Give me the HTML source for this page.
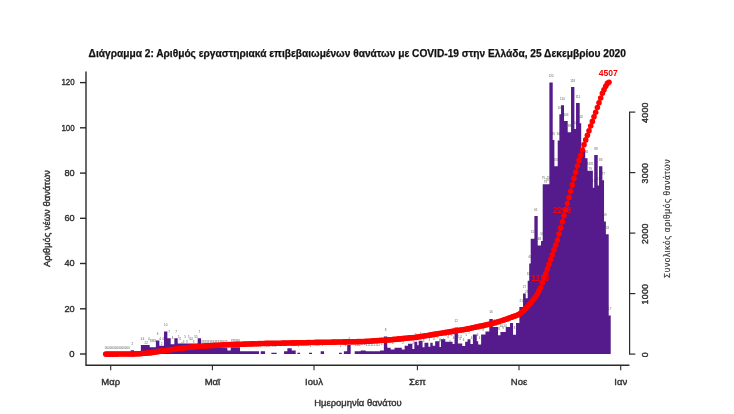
<!DOCTYPE html>
<html lang="el"><head><meta charset="utf-8"><title>Διάγραμμα 2</title>
<style>
html,body{margin:0;padding:0;background:#fff;}
body{width:734px;height:414px;overflow:hidden;}
svg{display:block;font-family:"Liberation Sans",sans-serif;}
</style></head><body>
<svg width="734" height="414" viewBox="0 0 734 414">
<rect width="734" height="414" fill="#fff"/>
<path fill="#551A8B" d="M130.70 354.00 V350.16 H134.03 V354.00 M140.87 354.00 V344.95 H149.70 V347.21 H155.87 V340.43 H159.37 V345.63 H164.03 V331.38 H167.37 V338.17 H170.70 V344.27 H174.37 V338.17 H177.70 V343.60 H197.70 V338.17 H201.04 V348.12 H227.37 V350.61 H230.70 V347.21 H240.04 V351.29 H259.04 V354.00 M260.70 354.00 V351.29 H265.04 V354.00 M271.37 354.00 V352.64 H276.70 V354.00 M284.04 354.00 V351.29 H287.37 V348.35 H291.70 V350.61 H295.70 V354.00 M297.37 354.00 V352.64 H300.04 V354.00 M309.04 354.00 V352.64 H312.04 V354.00 M320.70 354.00 V351.29 H324.04 V354.00 M339.04 354.00 V352.64 H341.87 V354.00 M343.87 354.00 V351.29 H347.20 V344.95 H350.70 V354.00 M354.70 354.00 V351.29 H360.71 V350.38 H365.71 V351.29 H380.00 V350.53 H383.87 V336.51 H387.25 V347.63 H390.64 V349.56 H394.51 V347.63 H401.76 V349.56 H404.66 V345.69 H408.05 V343.76 H412.40 V349.08 H414.33 V341.83 H417.23 V345.21 H418.68 V340.86 H422.55 V347.15 H424.49 V342.79 H428.36 V346.66 H430.29 V342.79 H432.71 V345.69 H435.13 V341.34 H439.48 V347.15 H439.52 V346.95 H440.97 V339.21 H445.32 V341.63 H452.57 V344.05 H454.51 V327.61 H457.89 V343.56 H462.24 V345.98 H465.15 V341.63 H467.56 V339.21 H470.46 V344.05 H472.88 V334.38 H476.75 V341.15 H478.20 V344.53 H481.10 V334.38 H485.45 V331.47 H489.32 V318.90 H492.71 V327.12 H498.03 V335.34 H500.44 V331.96 H505.76 V327.12 H510.02 V323.01 H513.04 V334.78 H516.04 V323.01 H519.37 V306.96 H523.04 V293.39 H525.71 V298.14 H527.71 V280.72 H529.21 V263.53 H530.71 V238.65 H534.38 V216.04 H537.71 V245.44 H541.04 V240.92 H542.71 V184.37 H549.38 V82.60 H552.71 V140.04 H554.38 V166.28 H557.71 V140.50 H559.38 V114.26 H561.04 V105.21 H564.04 V121.04 H567.71 V132.35 H571.04 V87.12 H574.38 V128.96 H576.04 V102.95 H579.71 V123.31 H581.21 V150.45 H585.21 V158.36 H587.54 V170.80 H592.88 V187.77 H594.21 V154.97 H597.71 V185.50 H599.04 V166.28 H602.38 V180.30 H604.04 V221.46 H605.88 V234.13 H608.71 V315.55 H610.71 V354.00"/>
<g font-size="3" fill="#333" opacity="0.8" text-anchor="middle">
<text x="105.7" y="348.5">0</text>
<text x="107.4" y="348.5">0</text>
<text x="109.0" y="348.5">0</text>
<text x="110.7" y="348.5">0</text>
<text x="112.4" y="348.5">0</text>
<text x="114.0" y="348.5">0</text>
<text x="115.7" y="348.5">0</text>
<text x="117.4" y="348.5">0</text>
<text x="119.0" y="348.5">0</text>
<text x="120.7" y="348.5">0</text>
<text x="122.4" y="348.5">0</text>
<text x="124.0" y="348.5">0</text>
<text x="125.7" y="348.5">0</text>
<text x="127.4" y="348.5">0</text>
<text x="129.0" y="348.5">0</text>
<text x="132.4" y="344.7">2</text>
<text x="141.7" y="339.5">4</text>
<text x="143.5" y="339.5">4</text>
<text x="145.3" y="344.0">2</text>
<text x="147.1" y="344.0">2</text>
<text x="148.9" y="339.5">4</text>
<text x="150.5" y="341.7">3</text>
<text x="152.0" y="341.7">3</text>
<text x="153.5" y="341.7">3</text>
<text x="155.0" y="341.7">3</text>
<text x="157.6" y="334.9">6</text>
<text x="160.2" y="340.1">4</text>
<text x="161.7" y="344.7">2</text>
<text x="163.2" y="340.1">4</text>
<text x="165.7" y="325.9">10</text>
<text x="169.0" y="332.7">7</text>
<text x="172.5" y="338.8">4</text>
<text x="176.0" y="332.7">7</text>
<text x="178.5" y="338.1">5</text>
<text x="180.2" y="340.4">4</text>
<text x="181.9" y="344.9">2</text>
<text x="183.5" y="342.6">3</text>
<text x="185.2" y="338.1">5</text>
<text x="186.9" y="342.6">3</text>
<text x="188.5" y="338.1">5</text>
<text x="190.2" y="340.4">4</text>
<text x="191.9" y="340.4">4</text>
<text x="193.5" y="342.6">3</text>
<text x="195.2" y="338.1">5</text>
<text x="196.9" y="338.1">5</text>
<text x="199.4" y="332.7">7</text>
<text x="201.9" y="342.6">3</text>
<text x="203.5" y="342.6">3</text>
<text x="205.2" y="342.6">3</text>
<text x="206.8" y="342.6">3</text>
<text x="208.4" y="342.6">3</text>
<text x="210.1" y="342.6">3</text>
<text x="211.7" y="342.6">3</text>
<text x="213.4" y="342.6">3</text>
<text x="215.0" y="342.6">3</text>
<text x="216.7" y="342.6">3</text>
<text x="218.3" y="342.6">3</text>
<text x="220.0" y="342.6">3</text>
<text x="221.6" y="342.6">3</text>
<text x="223.2" y="342.6">3</text>
<text x="224.9" y="342.6">3</text>
<text x="226.5" y="342.6">3</text>
<text x="229.0" y="345.1">2</text>
<text x="231.5" y="341.7">3</text>
<text x="233.1" y="341.7">3</text>
<text x="234.6" y="341.7">3</text>
<text x="236.1" y="341.7">3</text>
<text x="237.7" y="341.7">3</text>
<text x="239.2" y="341.7">3</text>
<text x="240.9" y="345.8">1</text>
<text x="242.6" y="345.8">1</text>
<text x="244.3" y="345.8">1</text>
<text x="246.1" y="345.8">1</text>
<text x="247.8" y="345.8">1</text>
<text x="249.5" y="345.8">1</text>
<text x="251.3" y="345.8">1</text>
<text x="253.0" y="345.8">1</text>
<text x="254.7" y="345.8">1</text>
<text x="256.5" y="345.8">1</text>
<text x="258.2" y="345.8">1</text>
<text x="262.9" y="345.8">1</text>
<text x="272.2" y="347.1">1</text>
<text x="274.0" y="347.1">1</text>
<text x="275.9" y="347.1">1</text>
<text x="285.7" y="345.8">1</text>
<text x="289.5" y="342.8">2</text>
<text x="293.7" y="345.1">2</text>
<text x="298.7" y="347.1">1</text>
<text x="310.5" y="347.1">1</text>
<text x="322.4" y="345.8">1</text>
<text x="340.5" y="347.1">1</text>
<text x="345.5" y="345.8">1</text>
<text x="349.0" y="339.5">4</text>
<text x="355.5" y="345.8">1</text>
<text x="357.0" y="345.8">1</text>
<text x="358.4" y="345.8">1</text>
<text x="359.9" y="345.8">1</text>
<text x="361.5" y="344.9">2</text>
<text x="363.2" y="344.9">2</text>
<text x="364.9" y="344.9">2</text>
<text x="366.5" y="345.8">1</text>
<text x="368.1" y="345.8">1</text>
<text x="369.7" y="345.8">1</text>
<text x="371.3" y="345.8">1</text>
<text x="372.9" y="345.8">1</text>
<text x="374.4" y="345.8">1</text>
<text x="376.0" y="345.8">1</text>
<text x="377.6" y="345.8">1</text>
<text x="379.2" y="345.8">1</text>
<text x="381.9" y="345.0">2</text>
<text x="385.6" y="331.0">8</text>
<text x="388.9" y="342.1">3</text>
<text x="392.6" y="344.1">2</text>
<text x="395.3" y="342.1">3</text>
<text x="397.2" y="342.1">3</text>
<text x="399.1" y="342.1">3</text>
<text x="400.9" y="342.1">3</text>
<text x="403.2" y="344.1">2</text>
<text x="406.4" y="340.2">4</text>
<text x="408.9" y="338.3">5</text>
<text x="410.2" y="338.3">5</text>
<text x="411.6" y="338.3">5</text>
<text x="413.4" y="343.6">2</text>
<text x="415.8" y="336.3">5</text>
<text x="418.0" y="339.7">4</text>
<text x="420.6" y="335.4">6</text>
<text x="423.5" y="341.6">3</text>
<text x="426.4" y="337.3">5</text>
<text x="429.3" y="341.2">3</text>
<text x="431.5" y="337.3">5</text>
<text x="433.9" y="340.2">4</text>
<text x="436.0" y="335.8">6</text>
<text x="437.3" y="338.1">5</text>
<text x="438.6" y="335.8">6</text>
<text x="439.5" y="341.6">3</text>
<text x="440.2" y="341.4">3</text>
<text x="441.8" y="333.7">7</text>
<text x="443.1" y="340.5">4</text>
<text x="444.5" y="333.7">7</text>
<text x="446.2" y="336.1">5</text>
<text x="448.0" y="338.4">4</text>
<text x="449.9" y="342.9">2</text>
<text x="451.7" y="336.1">5</text>
<text x="453.5" y="338.5">4</text>
<text x="456.2" y="322.1">12</text>
<text x="458.7" y="338.1">5</text>
<text x="460.1" y="340.3">4</text>
<text x="461.4" y="338.1">5</text>
<text x="463.7" y="340.5">4</text>
<text x="466.4" y="336.1">5</text>
<text x="469.0" y="333.7">7</text>
<text x="471.7" y="338.5">4</text>
<text x="474.8" y="328.9">9</text>
<text x="477.5" y="335.6">6</text>
<text x="479.7" y="339.0">4</text>
<text x="481.9" y="328.9">9</text>
<text x="483.3" y="331.1">8</text>
<text x="484.6" y="328.9">9</text>
<text x="487.4" y="326.0">10</text>
<text x="491.0" y="313.4">16</text>
<text x="493.5" y="321.6">12</text>
<text x="495.4" y="326.1">10</text>
<text x="497.2" y="321.6">12</text>
<text x="499.2" y="329.8">8</text>
<text x="501.3" y="326.5">10</text>
<text x="503.1" y="328.7">9</text>
<text x="504.9" y="326.5">10</text>
<text x="507.9" y="321.6">12</text>
<text x="511.5" y="317.5">14</text>
<text x="514.5" y="329.3">8</text>
<text x="517.7" y="317.5">14</text>
<text x="521.2" y="301.5">21</text>
<text x="524.4" y="287.9">27</text>
<text x="526.7" y="292.6">25</text>
<text x="528.5" y="275.2">32</text>
<text x="530.0" y="258.0">40</text>
<text x="532.5" y="233.2">51</text>
<text x="536.0" y="210.5">61</text>
<text x="539.4" y="239.9">48</text>
<text x="541.9" y="235.4">50</text>
<text x="543.5" y="178.9">75</text>
<text x="545.2" y="183.4">73</text>
<text x="546.9" y="181.1">74</text>
<text x="548.5" y="178.9">75</text>
<text x="551.0" y="77.1">120</text>
<text x="553.5" y="134.5">95</text>
<text x="556.0" y="160.8">83</text>
<text x="558.5" y="135.0">94</text>
<text x="560.2" y="108.8">106</text>
<text x="562.5" y="99.7">110</text>
<text x="565.9" y="115.5">103</text>
<text x="569.4" y="126.9">98</text>
<text x="572.7" y="81.6">118</text>
<text x="575.2" y="123.5">100</text>
<text x="577.9" y="97.5">111</text>
<text x="580.5" y="117.8">102</text>
<text x="583.2" y="144.9">90</text>
<text x="586.4" y="152.9">86</text>
<text x="588.4" y="165.3">81</text>
<text x="590.2" y="169.8">79</text>
<text x="592.0" y="165.3">81</text>
<text x="593.5" y="182.3">74</text>
<text x="596.0" y="149.5">88</text>
<text x="598.4" y="180.0">74</text>
<text x="600.7" y="160.8">83</text>
<text x="603.2" y="174.8">77</text>
<text x="605.0" y="216.0">59</text>
<text x="607.3" y="228.6">53</text>
<text x="609.7" y="310.1">17</text>
</g>
<g stroke="#2a2a2a" stroke-width="1.4" fill="none">
<path d="M86 71.6 V365.2 H629.4"/>
<path d="M80 354.0 H86"/>
<path d="M80 308.8 H86"/>
<path d="M80 263.5 H86"/>
<path d="M80 218.3 H86"/>
<path d="M80 173.1 H86"/>
<path d="M80 127.8 H86"/>
<path d="M80 82.6 H86"/>
<path d="M110.7 365.2 V370.3" stroke-width="1.1"/>
<path d="M212.4 365.2 V370.3" stroke-width="1.1"/>
<path d="M314.0 365.2 V370.3" stroke-width="1.1"/>
<path d="M417.4 365.2 V370.3" stroke-width="1.1"/>
<path d="M519.0 365.2 V370.3" stroke-width="1.1"/>
<path d="M620.7 365.2 V370.3" stroke-width="1.1"/>
<path d="M629.6 112.1 V354.1" stroke-width="1.2"/>
<path d="M629 354.1 H635.3" stroke-width="1.2"/>
<path d="M629 293.6 H635.3" stroke-width="1.2"/>
<path d="M629 233.1 H635.3" stroke-width="1.2"/>
<path d="M629 172.6 H635.3" stroke-width="1.2"/>
<path d="M629 112.1 H635.3" stroke-width="1.2"/>
</g>
<g fill="#f00" font-size="8.6">
<text x="598.8" y="75.9" font-weight="bold" textLength="19.1" lengthAdjust="spacingAndGlyphs">4507</text>
<text x="552.9" y="212.9" font-weight="bold" textLength="18.3" lengthAdjust="spacingAndGlyphs">2263</text>
<text x="531.6" y="280.6" font-weight="bold" textLength="17.6" lengthAdjust="spacingAndGlyphs">1178</text>
</g>
<polyline fill="none" stroke="#f00" stroke-width="1.5" points="105.7,354.1 107.4,354.1 109.0,354.1 110.7,354.1 112.4,354.1 114.0,354.1 115.7,354.1 117.4,354.1 119.0,354.0 120.7,354.0 122.4,354.0 124.0,354.0 125.7,354.0 127.4,354.0 129.0,354.0 130.7,354.0 132.4,353.9 134.0,353.9 135.7,353.8 137.4,353.7 139.0,353.7 140.7,353.6 142.4,353.5 144.0,353.3 145.7,353.2 147.4,353.0 149.0,352.9 150.7,352.7 152.4,352.4 154.0,352.2 155.7,351.9 157.4,351.6 159.0,351.4 160.7,351.1 162.4,350.9 164.0,350.7 165.7,350.5 167.4,350.3 169.0,350.0 170.7,349.8 172.4,349.5 174.0,349.2 175.7,349.0 177.4,348.7 179.0,348.5 180.7,348.2 182.4,348.0 184.0,347.9 185.7,347.7 187.4,347.5 189.0,347.3 190.7,347.1 192.4,347.0 194.0,346.8 195.7,346.7 197.4,346.5 199.0,346.4 200.7,346.3 202.4,346.1 204.0,346.0 205.7,345.9 207.4,345.8 209.0,345.7 210.7,345.6 212.4,345.5 214.0,345.4 215.7,345.3 217.4,345.3 219.0,345.2 220.7,345.1 222.4,345.0 224.0,344.9 225.7,344.8 227.4,344.7 229.0,344.6 230.7,344.6 232.4,344.5 234.0,344.5 235.7,344.4 237.4,344.3 239.0,344.3 240.7,344.2 242.4,344.2 244.0,344.1 245.7,344.1 247.4,344.0 249.0,344.0 250.7,343.9 252.4,343.8 254.0,343.8 255.7,343.7 257.4,343.7 259.0,343.6 260.7,343.6 262.4,343.5 264.0,343.5 265.7,343.4 267.4,343.4 269.0,343.4 270.7,343.3 272.4,343.3 274.0,343.3 275.7,343.3 277.4,343.2 279.0,343.2 280.7,343.2 282.4,343.1 284.0,343.1 285.7,343.1 287.4,343.0 289.0,343.0 290.7,343.0 292.4,342.9 294.0,342.9 295.7,342.9 297.4,342.8 299.0,342.8 300.7,342.8 302.4,342.7 304.0,342.7 305.7,342.7 307.4,342.6 309.0,342.6 310.7,342.5 312.4,342.5 314.0,342.5 315.7,342.4 317.4,342.4 319.0,342.4 320.7,342.3 322.4,342.3 324.0,342.3 325.7,342.3 327.4,342.2 329.0,342.2 330.7,342.2 332.4,342.1 334.0,342.1 335.7,342.1 337.4,342.0 339.0,342.0 340.7,342.0 342.4,342.0 344.0,341.9 345.7,341.9 347.4,341.8 349.0,341.8 350.7,341.8 352.4,341.7 354.0,341.7 355.7,341.7 357.4,341.6 359.0,341.6 360.7,341.6 362.4,341.5 364.0,341.5 365.7,341.4 367.4,341.3 369.0,341.2 370.7,341.1 372.4,341.0 374.0,340.8 375.7,340.7 377.4,340.6 379.0,340.5 380.7,340.4 382.4,340.3 384.0,340.2 385.7,340.1 387.4,340.0 389.0,339.9 390.7,339.7 392.4,339.6 394.0,339.4 395.7,339.2 397.4,339.1 399.0,338.9 400.7,338.7 402.4,338.6 404.0,338.4 405.7,338.3 407.4,338.1 409.0,338.0 410.7,337.8 412.4,337.7 414.0,337.5 415.7,337.4 417.4,337.1 419.0,336.8 420.7,336.6 422.4,336.3 424.0,336.0 425.7,335.7 427.4,335.5 429.0,335.2 430.7,334.9 432.4,334.6 434.0,334.4 435.7,334.1 437.4,333.8 439.0,333.5 440.7,333.3 442.4,333.0 444.0,332.7 445.7,332.4 447.4,332.2 449.0,331.9 450.7,331.6 452.4,331.4 454.0,331.1 455.7,330.8 457.4,330.6 459.0,330.3 460.7,330.1 462.4,329.8 464.0,329.6 465.7,329.3 467.4,328.9 469.0,328.6 470.7,328.2 472.4,327.8 474.0,327.5 475.7,327.1 477.4,326.7 479.0,326.4 480.7,326.0 482.4,325.7 484.0,325.3 485.7,325.0 487.4,324.6 489.0,324.3 490.7,323.9 492.4,323.4 494.0,323.0 495.7,322.5 497.4,322.0 499.0,321.6 500.7,321.0 502.4,320.5 504.0,319.9 505.7,319.3 507.4,318.7 509.0,318.1 510.7,317.5 512.4,316.9 514.0,316.3 515.7,315.7 517.4,315.0 519.0,314.3 520.7,313.1 522.4,311.8 524.0,310.5 525.7,308.6 527.4,306.7 529.0,304.8 530.7,302.8 532.4,300.8 534.0,298.8 535.7,296.7 537.4,294.0 539.0,290.9 540.7,287.8 542.4,282.8 544.0,278.0 545.7,273.4 547.4,268.9 549.0,264.3 550.7,259.6 552.4,254.7 554.0,249.8 555.7,245.0 557.4,240.1 559.0,234.0 560.7,227.9 562.4,221.8 564.0,215.8 565.7,209.7 567.4,203.6 569.0,197.5 570.7,191.2 572.4,184.9 574.0,178.6 575.7,172.3 577.4,166.0 579.0,160.4 580.7,155.2 582.4,150.0 584.0,144.8 585.7,139.9 587.4,135.3 589.0,130.7 590.7,126.0 592.4,121.4 594.0,116.8 595.7,112.2 597.4,107.5 599.0,102.8 600.7,98.0 602.4,93.2 604.0,89.8 605.7,86.3 607.4,83.4 609.0,82.2"/>
<g fill="#f00">
<circle cx="105.7" cy="354.1" r="2.8"/>
<circle cx="107.4" cy="354.1" r="2.8"/>
<circle cx="109.0" cy="354.1" r="2.8"/>
<circle cx="110.7" cy="354.1" r="2.8"/>
<circle cx="112.4" cy="354.1" r="2.8"/>
<circle cx="114.0" cy="354.1" r="2.8"/>
<circle cx="115.7" cy="354.1" r="2.8"/>
<circle cx="117.4" cy="354.1" r="2.8"/>
<circle cx="119.0" cy="354.0" r="2.8"/>
<circle cx="120.7" cy="354.0" r="2.8"/>
<circle cx="122.4" cy="354.0" r="2.8"/>
<circle cx="124.0" cy="354.0" r="2.8"/>
<circle cx="125.7" cy="354.0" r="2.8"/>
<circle cx="127.4" cy="354.0" r="2.8"/>
<circle cx="129.0" cy="354.0" r="2.8"/>
<circle cx="130.7" cy="354.0" r="2.8"/>
<circle cx="132.4" cy="353.9" r="2.8"/>
<circle cx="134.0" cy="353.9" r="2.8"/>
<circle cx="135.7" cy="353.8" r="2.8"/>
<circle cx="137.4" cy="353.7" r="2.8"/>
<circle cx="139.0" cy="353.7" r="2.8"/>
<circle cx="140.7" cy="353.6" r="2.8"/>
<circle cx="142.4" cy="353.5" r="2.8"/>
<circle cx="144.0" cy="353.3" r="2.8"/>
<circle cx="145.7" cy="353.2" r="2.8"/>
<circle cx="147.4" cy="353.0" r="2.8"/>
<circle cx="149.0" cy="352.9" r="2.8"/>
<circle cx="150.7" cy="352.7" r="2.8"/>
<circle cx="152.4" cy="352.4" r="2.8"/>
<circle cx="154.0" cy="352.2" r="2.8"/>
<circle cx="155.7" cy="351.9" r="2.8"/>
<circle cx="157.4" cy="351.6" r="2.8"/>
<circle cx="159.0" cy="351.4" r="2.8"/>
<circle cx="160.7" cy="351.1" r="2.8"/>
<circle cx="162.4" cy="350.9" r="2.8"/>
<circle cx="164.0" cy="350.7" r="2.8"/>
<circle cx="165.7" cy="350.5" r="2.8"/>
<circle cx="167.4" cy="350.3" r="2.8"/>
<circle cx="169.0" cy="350.0" r="2.8"/>
<circle cx="170.7" cy="349.8" r="2.8"/>
<circle cx="172.4" cy="349.5" r="2.8"/>
<circle cx="174.0" cy="349.2" r="2.8"/>
<circle cx="175.7" cy="349.0" r="2.8"/>
<circle cx="177.4" cy="348.7" r="2.8"/>
<circle cx="179.0" cy="348.5" r="2.8"/>
<circle cx="180.7" cy="348.2" r="2.8"/>
<circle cx="182.4" cy="348.0" r="2.8"/>
<circle cx="184.0" cy="347.9" r="2.8"/>
<circle cx="185.7" cy="347.7" r="2.8"/>
<circle cx="187.4" cy="347.5" r="2.8"/>
<circle cx="189.0" cy="347.3" r="2.8"/>
<circle cx="190.7" cy="347.1" r="2.8"/>
<circle cx="192.4" cy="347.0" r="2.8"/>
<circle cx="194.0" cy="346.8" r="2.8"/>
<circle cx="195.7" cy="346.7" r="2.8"/>
<circle cx="197.4" cy="346.5" r="2.8"/>
<circle cx="199.0" cy="346.4" r="2.8"/>
<circle cx="200.7" cy="346.3" r="2.8"/>
<circle cx="202.4" cy="346.1" r="2.8"/>
<circle cx="204.0" cy="346.0" r="2.8"/>
<circle cx="205.7" cy="345.9" r="2.8"/>
<circle cx="207.4" cy="345.8" r="2.8"/>
<circle cx="209.0" cy="345.7" r="2.8"/>
<circle cx="210.7" cy="345.6" r="2.8"/>
<circle cx="212.4" cy="345.5" r="2.8"/>
<circle cx="214.0" cy="345.4" r="2.8"/>
<circle cx="215.7" cy="345.3" r="2.8"/>
<circle cx="217.4" cy="345.3" r="2.8"/>
<circle cx="219.0" cy="345.2" r="2.8"/>
<circle cx="220.7" cy="345.1" r="2.8"/>
<circle cx="222.4" cy="345.0" r="2.8"/>
<circle cx="224.0" cy="344.9" r="2.8"/>
<circle cx="225.7" cy="344.8" r="2.8"/>
<circle cx="227.4" cy="344.7" r="2.8"/>
<circle cx="229.0" cy="344.6" r="2.8"/>
<circle cx="230.7" cy="344.6" r="2.8"/>
<circle cx="232.4" cy="344.5" r="2.8"/>
<circle cx="234.0" cy="344.5" r="2.8"/>
<circle cx="235.7" cy="344.4" r="2.8"/>
<circle cx="237.4" cy="344.3" r="2.8"/>
<circle cx="239.0" cy="344.3" r="2.8"/>
<circle cx="240.7" cy="344.2" r="2.8"/>
<circle cx="242.4" cy="344.2" r="2.8"/>
<circle cx="244.0" cy="344.1" r="2.8"/>
<circle cx="245.7" cy="344.1" r="2.8"/>
<circle cx="247.4" cy="344.0" r="2.8"/>
<circle cx="249.0" cy="344.0" r="2.8"/>
<circle cx="250.7" cy="343.9" r="2.8"/>
<circle cx="252.4" cy="343.8" r="2.8"/>
<circle cx="254.0" cy="343.8" r="2.8"/>
<circle cx="255.7" cy="343.7" r="2.8"/>
<circle cx="257.4" cy="343.7" r="2.8"/>
<circle cx="259.0" cy="343.6" r="2.8"/>
<circle cx="260.7" cy="343.6" r="2.8"/>
<circle cx="262.4" cy="343.5" r="2.8"/>
<circle cx="264.0" cy="343.5" r="2.8"/>
<circle cx="265.7" cy="343.4" r="2.8"/>
<circle cx="267.4" cy="343.4" r="2.8"/>
<circle cx="269.0" cy="343.4" r="2.8"/>
<circle cx="270.7" cy="343.3" r="2.8"/>
<circle cx="272.4" cy="343.3" r="2.8"/>
<circle cx="274.0" cy="343.3" r="2.8"/>
<circle cx="275.7" cy="343.3" r="2.8"/>
<circle cx="277.4" cy="343.2" r="2.8"/>
<circle cx="279.0" cy="343.2" r="2.8"/>
<circle cx="280.7" cy="343.2" r="2.8"/>
<circle cx="282.4" cy="343.1" r="2.8"/>
<circle cx="284.0" cy="343.1" r="2.8"/>
<circle cx="285.7" cy="343.1" r="2.8"/>
<circle cx="287.4" cy="343.0" r="2.8"/>
<circle cx="289.0" cy="343.0" r="2.8"/>
<circle cx="290.7" cy="343.0" r="2.8"/>
<circle cx="292.4" cy="342.9" r="2.8"/>
<circle cx="294.0" cy="342.9" r="2.8"/>
<circle cx="295.7" cy="342.9" r="2.8"/>
<circle cx="297.4" cy="342.8" r="2.8"/>
<circle cx="299.0" cy="342.8" r="2.8"/>
<circle cx="300.7" cy="342.8" r="2.8"/>
<circle cx="302.4" cy="342.7" r="2.8"/>
<circle cx="304.0" cy="342.7" r="2.8"/>
<circle cx="305.7" cy="342.7" r="2.8"/>
<circle cx="307.4" cy="342.6" r="2.8"/>
<circle cx="309.0" cy="342.6" r="2.8"/>
<circle cx="310.7" cy="342.5" r="2.8"/>
<circle cx="312.4" cy="342.5" r="2.8"/>
<circle cx="314.0" cy="342.5" r="2.8"/>
<circle cx="315.7" cy="342.4" r="2.8"/>
<circle cx="317.4" cy="342.4" r="2.8"/>
<circle cx="319.0" cy="342.4" r="2.8"/>
<circle cx="320.7" cy="342.3" r="2.8"/>
<circle cx="322.4" cy="342.3" r="2.8"/>
<circle cx="324.0" cy="342.3" r="2.8"/>
<circle cx="325.7" cy="342.3" r="2.8"/>
<circle cx="327.4" cy="342.2" r="2.8"/>
<circle cx="329.0" cy="342.2" r="2.8"/>
<circle cx="330.7" cy="342.2" r="2.8"/>
<circle cx="332.4" cy="342.1" r="2.8"/>
<circle cx="334.0" cy="342.1" r="2.8"/>
<circle cx="335.7" cy="342.1" r="2.8"/>
<circle cx="337.4" cy="342.0" r="2.8"/>
<circle cx="339.0" cy="342.0" r="2.8"/>
<circle cx="340.7" cy="342.0" r="2.8"/>
<circle cx="342.4" cy="342.0" r="2.8"/>
<circle cx="344.0" cy="341.9" r="2.8"/>
<circle cx="345.7" cy="341.9" r="2.8"/>
<circle cx="347.4" cy="341.8" r="2.8"/>
<circle cx="349.0" cy="341.8" r="2.8"/>
<circle cx="350.7" cy="341.8" r="2.8"/>
<circle cx="352.4" cy="341.7" r="2.8"/>
<circle cx="354.0" cy="341.7" r="2.8"/>
<circle cx="355.7" cy="341.7" r="2.8"/>
<circle cx="357.4" cy="341.6" r="2.8"/>
<circle cx="359.0" cy="341.6" r="2.8"/>
<circle cx="360.7" cy="341.6" r="2.8"/>
<circle cx="362.4" cy="341.5" r="2.8"/>
<circle cx="364.0" cy="341.5" r="2.8"/>
<circle cx="365.7" cy="341.4" r="2.8"/>
<circle cx="367.4" cy="341.3" r="2.8"/>
<circle cx="369.0" cy="341.2" r="2.8"/>
<circle cx="370.7" cy="341.1" r="2.8"/>
<circle cx="372.4" cy="341.0" r="2.8"/>
<circle cx="374.0" cy="340.8" r="2.8"/>
<circle cx="375.7" cy="340.7" r="2.8"/>
<circle cx="377.4" cy="340.6" r="2.8"/>
<circle cx="379.0" cy="340.5" r="2.8"/>
<circle cx="380.7" cy="340.4" r="2.8"/>
<circle cx="382.4" cy="340.3" r="2.8"/>
<circle cx="384.0" cy="340.2" r="2.8"/>
<circle cx="385.7" cy="340.1" r="2.8"/>
<circle cx="387.4" cy="340.0" r="2.8"/>
<circle cx="389.0" cy="339.9" r="2.8"/>
<circle cx="390.7" cy="339.7" r="2.8"/>
<circle cx="392.4" cy="339.6" r="2.8"/>
<circle cx="394.0" cy="339.4" r="2.8"/>
<circle cx="395.7" cy="339.2" r="2.8"/>
<circle cx="397.4" cy="339.1" r="2.8"/>
<circle cx="399.0" cy="338.9" r="2.8"/>
<circle cx="400.7" cy="338.7" r="2.8"/>
<circle cx="402.4" cy="338.6" r="2.8"/>
<circle cx="404.0" cy="338.4" r="2.8"/>
<circle cx="405.7" cy="338.3" r="2.8"/>
<circle cx="407.4" cy="338.1" r="2.8"/>
<circle cx="409.0" cy="338.0" r="2.8"/>
<circle cx="410.7" cy="337.8" r="2.8"/>
<circle cx="412.4" cy="337.7" r="2.8"/>
<circle cx="414.0" cy="337.5" r="2.8"/>
<circle cx="415.7" cy="337.4" r="2.8"/>
<circle cx="417.4" cy="337.1" r="2.8"/>
<circle cx="419.0" cy="336.8" r="2.8"/>
<circle cx="420.7" cy="336.6" r="2.8"/>
<circle cx="422.4" cy="336.3" r="2.8"/>
<circle cx="424.0" cy="336.0" r="2.8"/>
<circle cx="425.7" cy="335.7" r="2.8"/>
<circle cx="427.4" cy="335.5" r="2.8"/>
<circle cx="429.0" cy="335.2" r="2.8"/>
<circle cx="430.7" cy="334.9" r="2.8"/>
<circle cx="432.4" cy="334.6" r="2.8"/>
<circle cx="434.0" cy="334.4" r="2.8"/>
<circle cx="435.7" cy="334.1" r="2.8"/>
<circle cx="437.4" cy="333.8" r="2.8"/>
<circle cx="439.0" cy="333.5" r="2.8"/>
<circle cx="440.7" cy="333.3" r="2.8"/>
<circle cx="442.4" cy="333.0" r="2.8"/>
<circle cx="444.0" cy="332.7" r="2.8"/>
<circle cx="445.7" cy="332.4" r="2.8"/>
<circle cx="447.4" cy="332.2" r="2.8"/>
<circle cx="449.0" cy="331.9" r="2.8"/>
<circle cx="450.7" cy="331.6" r="2.8"/>
<circle cx="452.4" cy="331.4" r="2.8"/>
<circle cx="454.0" cy="331.1" r="2.8"/>
<circle cx="455.7" cy="330.8" r="2.8"/>
<circle cx="457.4" cy="330.6" r="2.8"/>
<circle cx="459.0" cy="330.3" r="2.8"/>
<circle cx="460.7" cy="330.1" r="2.8"/>
<circle cx="462.4" cy="329.8" r="2.8"/>
<circle cx="464.0" cy="329.6" r="2.8"/>
<circle cx="465.7" cy="329.3" r="2.8"/>
<circle cx="467.4" cy="328.9" r="2.8"/>
<circle cx="469.0" cy="328.6" r="2.8"/>
<circle cx="470.7" cy="328.2" r="2.8"/>
<circle cx="472.4" cy="327.8" r="2.8"/>
<circle cx="474.0" cy="327.5" r="2.8"/>
<circle cx="475.7" cy="327.1" r="2.8"/>
<circle cx="477.4" cy="326.7" r="2.8"/>
<circle cx="479.0" cy="326.4" r="2.8"/>
<circle cx="480.7" cy="326.0" r="2.8"/>
<circle cx="482.4" cy="325.7" r="2.8"/>
<circle cx="484.0" cy="325.3" r="2.8"/>
<circle cx="485.7" cy="325.0" r="2.8"/>
<circle cx="487.4" cy="324.6" r="2.8"/>
<circle cx="489.0" cy="324.3" r="2.8"/>
<circle cx="490.7" cy="323.9" r="2.8"/>
<circle cx="492.4" cy="323.4" r="2.8"/>
<circle cx="494.0" cy="323.0" r="2.8"/>
<circle cx="495.7" cy="322.5" r="2.8"/>
<circle cx="497.4" cy="322.0" r="2.8"/>
<circle cx="499.0" cy="321.6" r="2.8"/>
<circle cx="500.7" cy="321.0" r="2.8"/>
<circle cx="502.4" cy="320.5" r="2.8"/>
<circle cx="504.0" cy="319.9" r="2.8"/>
<circle cx="505.7" cy="319.3" r="2.8"/>
<circle cx="507.4" cy="318.7" r="2.8"/>
<circle cx="509.0" cy="318.1" r="2.8"/>
<circle cx="510.7" cy="317.5" r="2.8"/>
<circle cx="512.4" cy="316.9" r="2.8"/>
<circle cx="514.0" cy="316.3" r="2.8"/>
<circle cx="515.7" cy="315.7" r="2.8"/>
<circle cx="517.4" cy="315.0" r="2.8"/>
<circle cx="519.0" cy="314.3" r="2.8"/>
<circle cx="520.7" cy="313.1" r="2.8"/>
<circle cx="522.4" cy="311.8" r="2.8"/>
<circle cx="524.0" cy="310.5" r="2.8"/>
<circle cx="525.7" cy="308.6" r="2.8"/>
<circle cx="527.4" cy="306.7" r="2.8"/>
<circle cx="529.0" cy="304.8" r="2.8"/>
<circle cx="530.7" cy="302.8" r="2.8"/>
<circle cx="532.4" cy="300.8" r="2.8"/>
<circle cx="534.0" cy="298.8" r="2.8"/>
<circle cx="535.7" cy="296.7" r="2.8"/>
<circle cx="537.4" cy="294.0" r="2.8"/>
<circle cx="539.0" cy="290.9" r="2.8"/>
<circle cx="540.7" cy="287.8" r="2.8"/>
<circle cx="542.4" cy="282.8" r="2.8"/>
<circle cx="544.0" cy="278.0" r="2.8"/>
<circle cx="545.7" cy="273.4" r="2.8"/>
<circle cx="547.4" cy="268.9" r="2.8"/>
<circle cx="549.0" cy="264.3" r="2.8"/>
<circle cx="550.7" cy="259.6" r="2.8"/>
<circle cx="552.4" cy="254.7" r="2.8"/>
<circle cx="554.0" cy="249.8" r="2.8"/>
<circle cx="555.7" cy="245.0" r="2.8"/>
<circle cx="557.4" cy="240.1" r="2.8"/>
<circle cx="559.0" cy="234.0" r="2.8"/>
<circle cx="560.7" cy="227.9" r="2.8"/>
<circle cx="562.4" cy="221.8" r="2.8"/>
<circle cx="564.0" cy="215.8" r="2.8"/>
<circle cx="565.7" cy="209.7" r="2.8"/>
<circle cx="567.4" cy="203.6" r="2.8"/>
<circle cx="569.0" cy="197.5" r="2.8"/>
<circle cx="570.7" cy="191.2" r="2.8"/>
<circle cx="572.4" cy="184.9" r="2.8"/>
<circle cx="574.0" cy="178.6" r="2.8"/>
<circle cx="575.7" cy="172.3" r="2.8"/>
<circle cx="577.4" cy="166.0" r="2.8"/>
<circle cx="579.0" cy="160.4" r="2.8"/>
<circle cx="580.7" cy="155.2" r="2.8"/>
<circle cx="582.4" cy="150.0" r="2.8"/>
<circle cx="584.0" cy="144.8" r="2.8"/>
<circle cx="585.7" cy="139.9" r="2.8"/>
<circle cx="587.4" cy="135.3" r="2.8"/>
<circle cx="589.0" cy="130.7" r="2.8"/>
<circle cx="590.7" cy="126.0" r="2.8"/>
<circle cx="592.4" cy="121.4" r="2.8"/>
<circle cx="594.0" cy="116.8" r="2.8"/>
<circle cx="595.7" cy="112.2" r="2.8"/>
<circle cx="597.4" cy="107.5" r="2.8"/>
<circle cx="599.0" cy="102.8" r="2.8"/>
<circle cx="600.7" cy="98.0" r="2.8"/>
<circle cx="602.4" cy="93.2" r="2.8"/>
<circle cx="604.0" cy="89.8" r="2.8"/>
<circle cx="605.7" cy="86.3" r="2.8"/>
<circle cx="607.4" cy="83.4" r="2.8"/>
<circle cx="609.0" cy="82.2" r="2.8"/>
</g>
<g fill="#333" font-size="9.5" stroke="#333" stroke-width="0.42">
<text x="74.6" y="356.7" text-anchor="end" textLength="5.3" lengthAdjust="spacingAndGlyphs">0</text>
<text x="74.6" y="311.5" text-anchor="end" textLength="10.2" lengthAdjust="spacingAndGlyphs">20</text>
<text x="74.6" y="266.2" text-anchor="end" textLength="10.2" lengthAdjust="spacingAndGlyphs">40</text>
<text x="74.6" y="221.0" text-anchor="end" textLength="10.2" lengthAdjust="spacingAndGlyphs">60</text>
<text x="74.6" y="175.8" text-anchor="end" textLength="10.2" lengthAdjust="spacingAndGlyphs">80</text>
<text x="74.6" y="130.5" text-anchor="end" textLength="13.2" lengthAdjust="spacingAndGlyphs">100</text>
<text x="74.6" y="85.3" text-anchor="end" textLength="13.2" lengthAdjust="spacingAndGlyphs">120</text>
<text x="110.7" y="385" text-anchor="middle">Μαρ</text>
<text x="212.4" y="385" text-anchor="middle">Μαϊ</text>
<text x="314.0" y="385" text-anchor="middle">Ιουλ</text>
<text x="417.4" y="385" text-anchor="middle">Σεπ</text>
<text x="519.0" y="385" text-anchor="middle">Νοε</text>
<text x="620.7" y="385" text-anchor="middle">Ιαν</text>
<text x="358" y="405.9" text-anchor="middle" textLength="87.6" lengthAdjust="spacingAndGlyphs">Ημερομηνία θανάτου</text>
<text transform="translate(49.7 218.5) rotate(-90)" font-size="9.2" text-anchor="middle" textLength="97" lengthAdjust="spacingAndGlyphs">Αριθμός νέων θανάτων</text>
<text transform="translate(670.4 218.7) rotate(-90)" font-size="8.3" stroke-width="0.15" text-anchor="middle" textLength="118.5" lengthAdjust="spacing">Συνολικός αριθμός θανάτων</text>
<text transform="translate(647.9 354.8) rotate(-90)" font-size="8.7" text-anchor="middle">0</text>
<text transform="translate(647.9 294.3) rotate(-90)" font-size="8.7" text-anchor="middle" textLength="20.5">1000</text>
<text transform="translate(647.9 233.8) rotate(-90)" font-size="8.7" text-anchor="middle" textLength="20.5">2000</text>
<text transform="translate(647.9 173.3) rotate(-90)" font-size="8.7" text-anchor="middle" textLength="20.5">3000</text>
<text transform="translate(647.9 112.8) rotate(-90)" font-size="8.7" text-anchor="middle" textLength="20.5">4000</text>
</g>
<text x="88.6" y="56.8" font-size="10.4" font-weight="bold" fill="#111" stroke="#111" stroke-width="0.25" textLength="537.3" lengthAdjust="spacingAndGlyphs">Διάγραμμα 2: Αριθμός εργαστηριακά επιβεβαιωμένων θανάτων με COVID-19 στην Ελλάδα, 25 Δεκεμβρίου 2020</text>
</svg>
</body></html>
